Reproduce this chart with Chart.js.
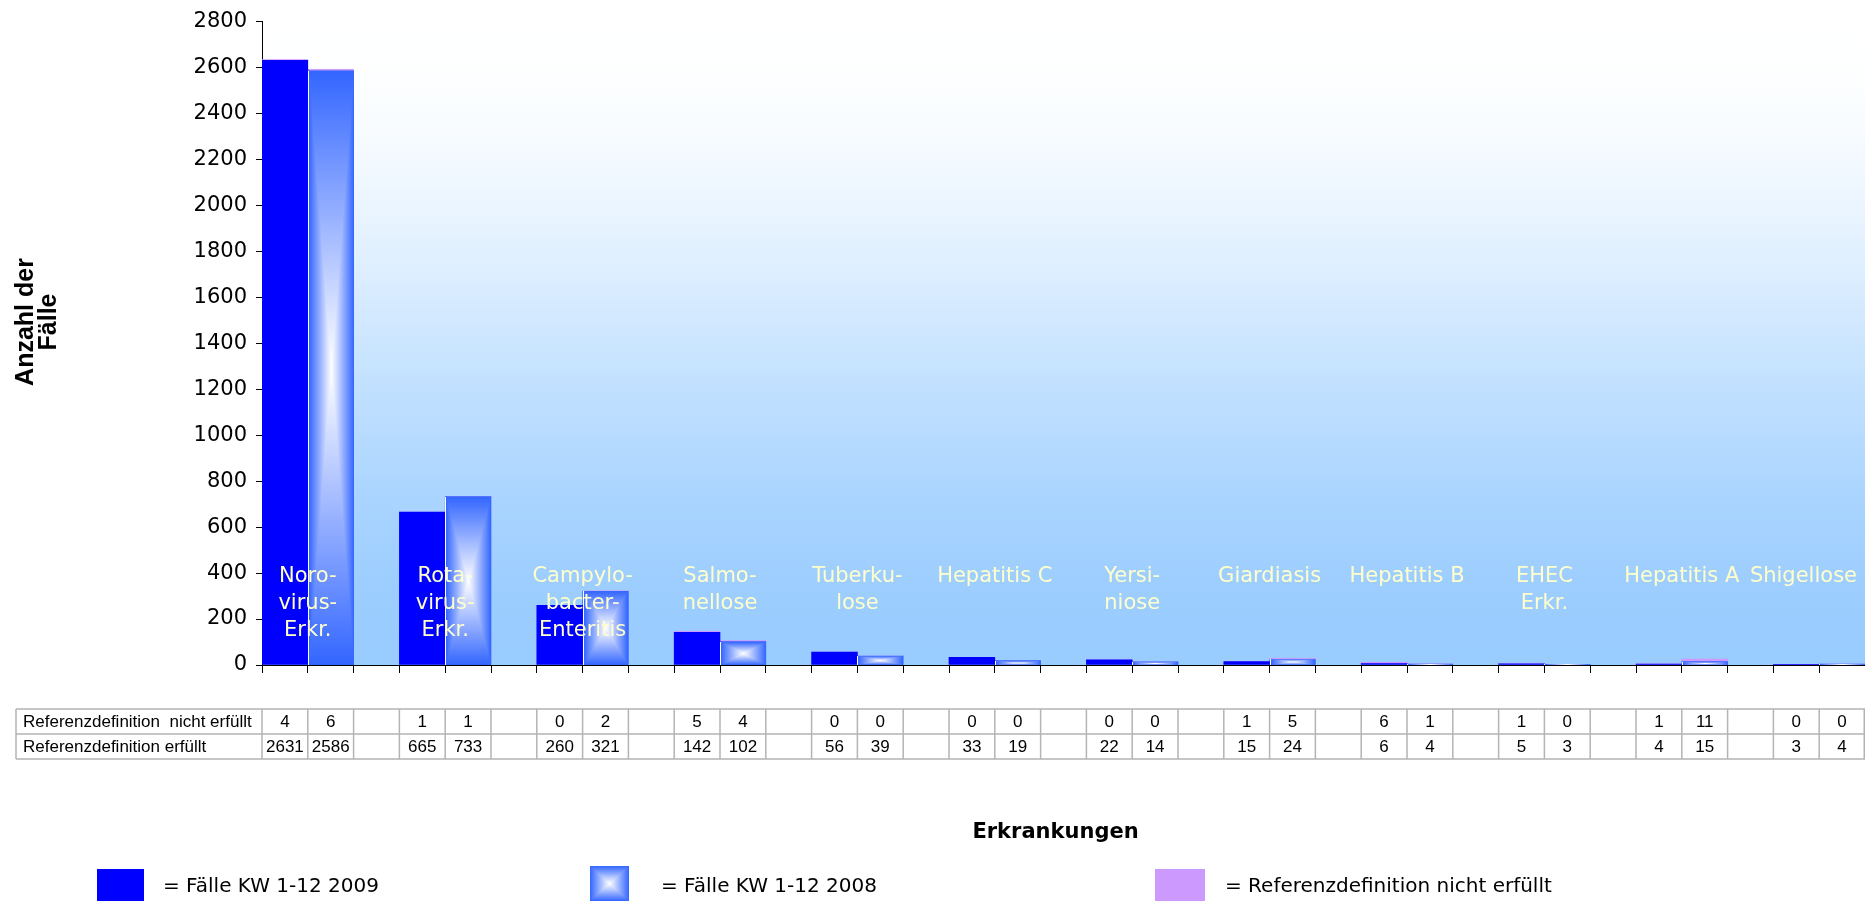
<!DOCTYPE html>
<html>
<head>
<meta charset="utf-8">
<style>
  html, body { margin: 0; padding: 0; background: #ffffff; }
  #wrap { width: 1865px; height: 901px; position: relative; }
</style>
<script src="https://cdn.jsdelivr.net/npm/chart.js@4.4.1/dist/chart.umd.min.js"></script>
</head>
<body>
<div id="wrap"><canvas id="chart" width="1865" height="901"></canvas></div>
<script>
// Meldepflichtige Erkrankungen, KW 1-12: 2009 vs. 2008
const diseases = [
  ['Noro-', 'virus-', 'Erkr.'],
  ['Rota-', 'virus-', 'Erkr.'],
  ['Campylo-', 'bacter-', 'Enteritis'],
  ['Salmo-', 'nellose'],
  ['Tuberku-', 'lose'],
  ['Hepatitis C'],
  ['Yersi-', 'niose'],
  ['Giardiasis'],
  ['Hepatitis B'],
  ['EHEC', 'Erkr.'],
  ['Hepatitis A'],
  ['Shigellose']
];
// Referenzdefinition erfüllt
const met2009 = [2631, 665, 260, 142, 56, 33, 22, 15, 6, 5, 4, 3];
const met2008 = [2586, 733, 321, 102, 39, 19, 14, 24, 4, 3, 15, 4];
// Referenzdefinition nicht erfüllt
const notMet2009 = [4, 1, 0, 5, 0, 0, 0, 1, 6, 1, 1, 0];
const notMet2008 = [6, 1, 2, 4, 0, 0, 0, 5, 1, 0, 11, 0];

const rowLabels = ['Referenzdefinition  nicht erfüllt', 'Referenzdefinition erfüllt'];
const legendLabels = ['= Fälle KW 1-12 2009', '= Fälle KW 1-12 2008', '= Referenzdefinition nicht erfüllt'];
const yTitle = ['Anzahl der', 'Fälle'];
const xTitle = 'Erkrankungen';

// Each disease gets a 2009 slot, a 2008 slot and (except the last) an empty spacer slot.
const slotLabels = [], slot2009 = [], slot2008 = [], slotNotMet = [], slotInfo = [];
diseases.forEach((lines, k) => {
  const name = lines.join(' ').replace(/- /g, '');
  slotLabels.push(name + ' 2009'); slot2009.push(met2009[k]); slot2008.push(null); slotNotMet.push(notMet2009[k]);
  slotInfo.push({ met: met2009[k], notMet: notMet2009[k] });
  slotLabels.push(name + ' 2008'); slot2009.push(null); slot2008.push(met2008[k]); slotNotMet.push(notMet2008[k]);
  slotInfo.push({ met: met2008[k], notMet: notMet2008[k] });
  if (k < diseases.length - 1) {
    slotLabels.push(''); slot2009.push(null); slot2008.push(null); slotNotMet.push(null);
    slotInfo.push(null);
  }
});

const BLUE_2009 = '#0000FF';
const EDGE_2008 = [0x33, 0x66, 0xFF];
const CENTER_2008 = [0xFF, 0xFF, 0xFF];
const PINK = '#CC99FF';
const LABEL_LEVEL = 360;     // value level of the first line of the in-plot disease names

// "from centre" rectangular gradient, painted pixel by pixel
function paintRectGradient(ctx, x0, y0, x1, y1, edge, center) {
  const L = Math.round(x0), T = Math.round(y0), R = Math.round(x1), B = Math.round(y1);
  const w = R - L, h = B - T;
  if (w <= 0 || h <= 0) return;
  const off = document.createElement('canvas');
  off.width = w; off.height = h;
  const octx = off.getContext('2d');
  const img = octx.createImageData(w, h);
  const hw = w / 2, hh = h / 2;
  for (let y = 0; y < h; y++) {
    const dy = Math.abs(y + 0.5 - hh) / hh;
    for (let x = 0; x < w; x++) {
      const dx = Math.abs(x + 0.5 - hw) / hw;
      const t = Math.min(1, Math.max(dx, dy));
      const i = (y * w + x) * 4;
      img.data[i]     = center[0] + (edge[0] - center[0]) * t;
      img.data[i + 1] = center[1] + (edge[1] - center[1]) * t;
      img.data[i + 2] = center[2] + (edge[2] - center[2]) * t;
      img.data[i + 3] = 255;
    }
  }
  octx.putImageData(img, 0, 0);
  ctx.drawImage(off, L, T);
}

// Plot-area background: white fading to light blue
const plotBackground = {
  id: 'plotBackground',
  beforeDraw(chart) {
    const { ctx, chartArea: a } = chart;
    const g = ctx.createLinearGradient(0, a.top, 0, a.bottom);
    for (let i = 0; i <= 20; i++) {
      const p = i / 20;
      const t = p * p * (3 - 2 * p);
      g.addColorStop(p, `rgb(${Math.round(255 - 102 * t)},${Math.round(255 - 51 * t)},255)`);
    }
    ctx.save();
    ctx.fillStyle = g;
    ctx.fillRect(a.left, a.top, a.right - a.left, a.bottom - a.top);
    ctx.restore();
  }
};

// 2008 bars get the centre gradient; then the disease names are written into the plot
const barDecor = {
  id: 'barDecor',
  afterDatasetsDraw(chart) {
    const ctx = chart.ctx;
    const a = chart.chartArea;
    const meta = chart.getDatasetMeta(1);
    ctx.save();
    meta.data.forEach((el, i) => {
      if (slot2008[i] == null) return;
      const { x, y, base, width } = el.getProps(['x', 'y', 'base', 'width'], true);
      const left = x - width / 2;
      ctx.fillStyle = '#FFFFFF';
      ctx.fillRect(Math.round(left), Math.round(y), 1, Math.round(base) - Math.round(y));
      paintRectGradient(ctx, left + 1, y, left + width, base, EDGE_2008, CENTER_2008);
    });

    const xs = chart.scales.x, ys = chart.scales.y;
    ctx.fillStyle = '#FFFFCC';
    ctx.font = '21px "DejaVu Sans"';
    ctx.textAlign = 'center';
    ctx.textBaseline = 'alphabetic';
    const top = ys.getPixelForValue(LABEL_LEVEL);
    let slot = 0;
    diseases.forEach((lines) => {
      let cx = (xs.getPixelForValue(slot) + xs.getPixelForValue(slot + 1)) / 2;
      // keep the whole name inside the plot area
      const widest = Math.max(...lines.map((l) => ctx.measureText(l).width));
      cx = Math.min(cx, a.right - widest / 2 - 8);
      lines.forEach((line, j) => ctx.fillText(line, cx, top + j * 27));
      slot += 3;
    });
    ctx.restore();
  }
};

// Data table, axis titles and legend below the plot
const tableAndLegend = {
  id: 'tableAndLegend',
  afterDraw(chart) {
    const { ctx, chartArea: a } = chart;
    const xs = chart.scales.x;
    const n = slotLabels.length;
    const slotW = (a.right - a.left) / n;
    const tTop = a.bottom + 44, rowH = 25, tLeft = 16;
    ctx.save();

    // grid of the table
    ctx.strokeStyle = '#B4B4B4';
    ctx.lineWidth = 1.5;
    ctx.beginPath();
    for (let r = 0; r <= 2; r++) {
      ctx.moveTo(tLeft, tTop + r * rowH);
      ctx.lineTo(a.right, tTop + r * rowH);
    }
    ctx.moveTo(tLeft, tTop); ctx.lineTo(tLeft, tTop + 2 * rowH);
    for (let i = 0; i <= n; i++) {
      const bx = i < n ? xs.getPixelForValue(i) - slotW / 2 : a.right - 0.75;
      ctx.moveTo(bx, tTop); ctx.lineTo(bx, tTop + 2 * rowH);
    }
    ctx.stroke();

    // texts of the table
    ctx.fillStyle = '#000000';
    ctx.font = '17px "Liberation Sans"';
    ctx.textBaseline = 'middle';
    ctx.textAlign = 'left';
    ctx.fillText(rowLabels[0], tLeft + 7, tTop + rowH * 0.5 + 1);
    ctx.fillText(rowLabels[1], tLeft + 7, tTop + rowH * 1.5 + 1);
    ctx.textAlign = 'center';
    slotInfo.forEach((info, i) => {
      if (!info) return;
      const cx = xs.getPixelForValue(i);
      ctx.fillText(String(info.notMet), cx, tTop + rowH * 0.5 + 1);
      ctx.fillText(String(info.met), cx, tTop + rowH * 1.5 + 1);
    });

    // x title
    ctx.font = 'bold 21px "DejaVu Sans"';
    ctx.textAlign = 'center';
    ctx.fillText(xTitle, (a.left + a.right) / 2 - 8, 833);

    // y title, rotated
    ctx.save();
    ctx.font = 'bold 25px "Liberation Sans"';
    ctx.textBaseline = 'alphabetic';
    ctx.translate(0, 322);
    ctx.rotate(-Math.PI / 2);
    ctx.fillText(yTitle[0], 0, 33);
    ctx.fillText(yTitle[1], 0, 56);
    ctx.restore();

    // legend
    ctx.fillStyle = BLUE_2009;
    ctx.fillRect(97, 869, 47, 32);
    paintRectGradient(ctx, 590, 866, 629, 901, EDGE_2008, CENTER_2008);
    ctx.fillStyle = PINK;
    ctx.fillRect(1155, 869, 50, 32);
    ctx.fillStyle = '#000000';
    ctx.font = '20px "DejaVu Sans"';
    ctx.textAlign = 'left';
    ctx.textBaseline = 'middle';
    ctx.fillText(legendLabels[0], 163, 887);
    ctx.fillText(legendLabels[1], 661, 887);
    ctx.fillText(legendLabels[2], 1225, 887);
    ctx.restore();
  }
};

new Chart(document.getElementById('chart'), {
  type: 'bar',
  data: {
    labels: slotLabels,
    datasets: [
      { label: 'Fälle KW 1-12 2009', data: slot2009, backgroundColor: BLUE_2009 },
      { label: 'Fälle KW 1-12 2008', data: slot2008, backgroundColor: 'rgb(51,102,255)' },
      { label: 'Referenzdefinition nicht erfüllt', data: slotNotMet, backgroundColor: PINK }
    ]
  },
  options: {
    responsive: false,
    animation: false,
    devicePixelRatio: 1,
    layout: { padding: { top: 16, right: 0, bottom: 226, left: 0 } },
    datasets: { bar: { barPercentage: 1, categoryPercentage: 1, borderWidth: 0 } },
    plugins: { legend: { display: false }, tooltip: { enabled: false } },
    scales: {
      x: {
        stacked: true,
        offset: true,
        ticks: { display: false },
        grid: { offset: true, drawOnChartArea: false, drawTicks: true, tickLength: 8, color: '#000000' },
        border: { display: true, color: '#000000', width: 1 },
        afterFit(scale) { scale.height = 10; }
      },
      y: {
        stacked: true,
        min: 0,
        max: 2800,
        ticks: {
          stepSize: 200, color: '#000000', padding: 9,
          font: { family: 'DejaVu Sans', size: 21 },
          callback: (v) => String(v)
        },
        grid: { drawOnChartArea: false, drawTicks: true, tickLength: 6, color: '#000000' },
        border: { display: true, color: '#000000', width: 1 },
        afterFit(scale) { scale.width = 262; }
      }
    }
  },
  plugins: [plotBackground, barDecor, tableAndLegend]
});
</script>
</body>
</html>
